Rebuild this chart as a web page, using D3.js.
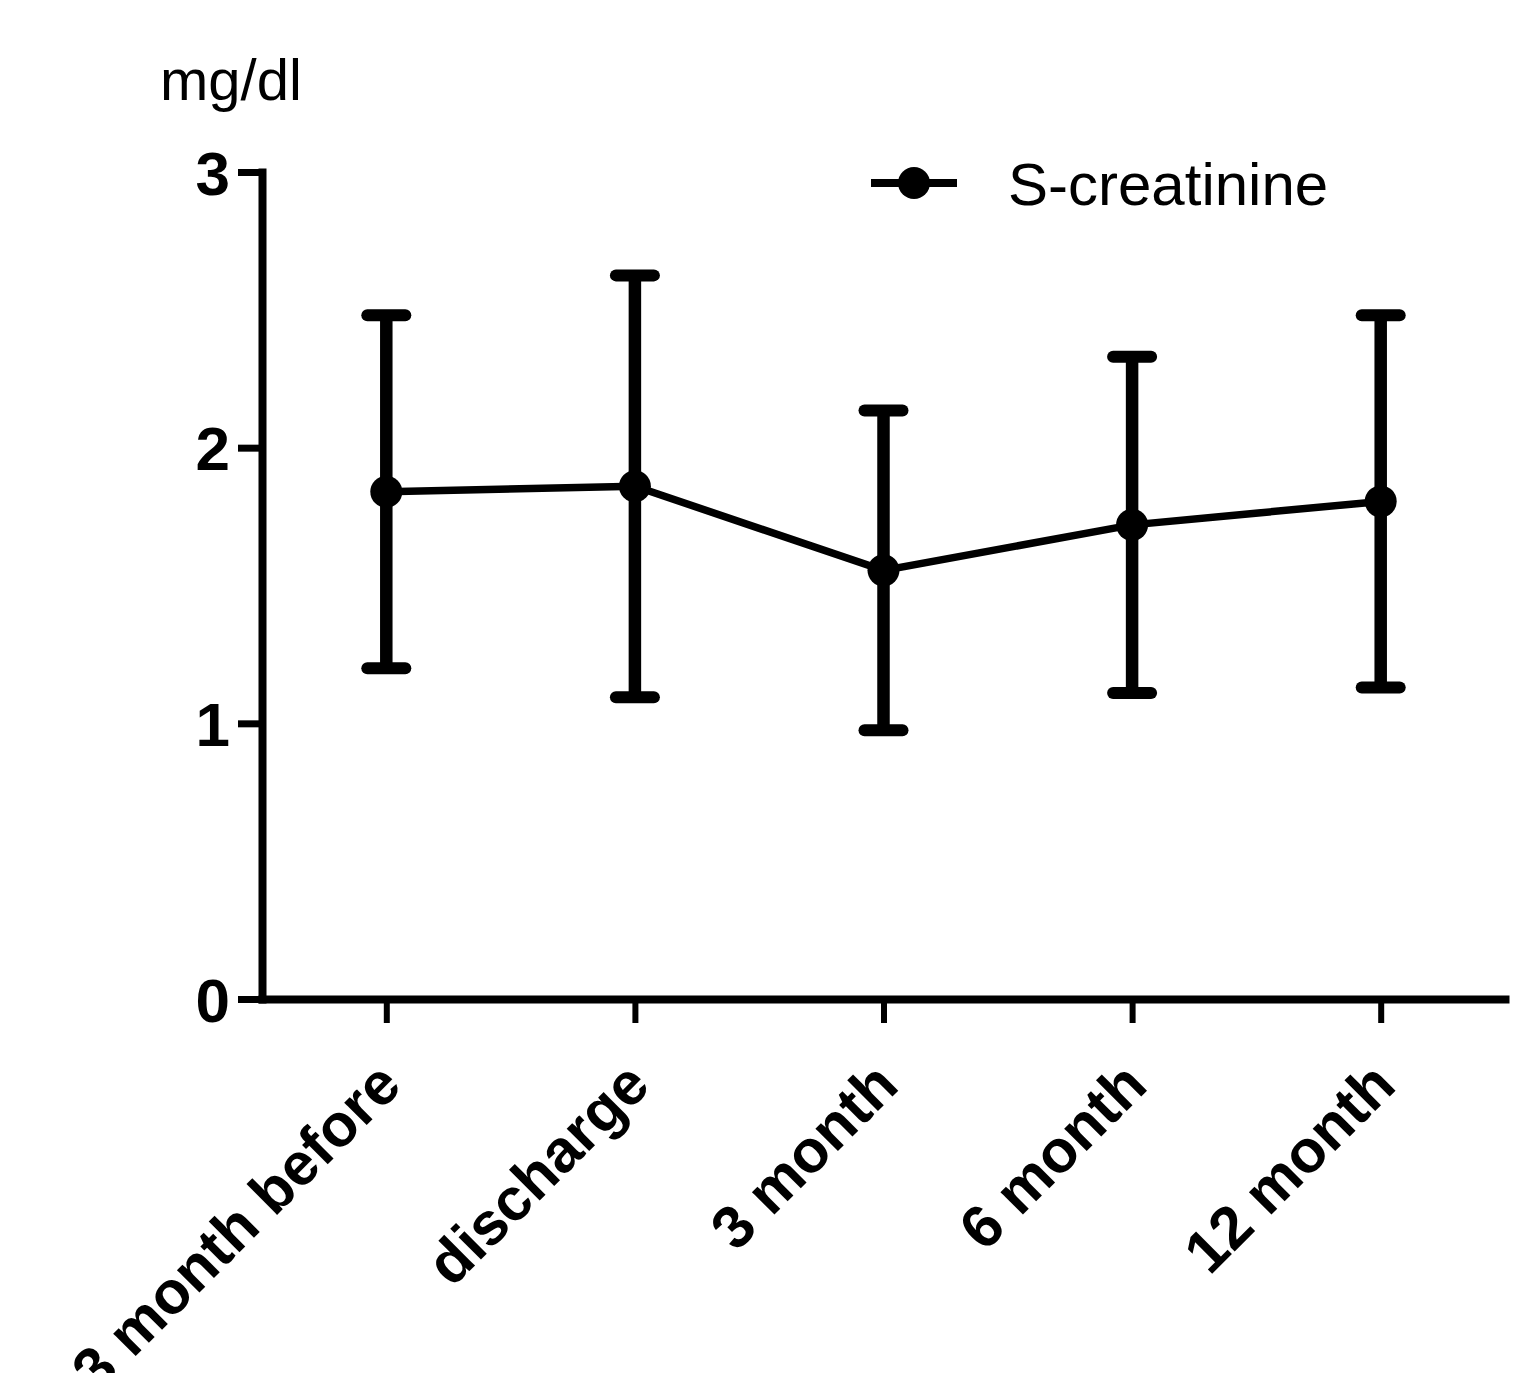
<!DOCTYPE html>
<html>
<head>
<meta charset="utf-8">
<script src="https://cdn.jsdelivr.net/npm/d3@7"></script>
<style>
  html, body { margin: 0; padding: 0; background: #fff; }
  svg { display: block; }
  text { font-family: "Liberation Sans", Arial, sans-serif; fill: #000; }
</style>
</head>
<body>
<script>
const categories = ["3 month before", "discharge", "3 month", "6 month", "12 month"];
const means = [1.84, 1.86, 1.555, 1.72, 1.805];
const sds = [0.64, 0.765, 0.58, 0.61, 0.675];
const yTicks = [0, 1, 2, 3];
const seriesName = "S-creatinine";
const unitLabel = "mg/dl";

const W = 1513, H = 1373;
const svg = d3.select("body").append("svg").attr("width", W).attr("height", H);
svg.append("rect").attr("width", W).attr("height", H).attr("fill", "#fff");

const x = d3.scalePoint().domain(categories).range([262, 1505]).padding(0.5);
const y = d3.scaleLinear().domain([0, 3]).range([999, 172]);

// Y axis
const yAxis = d3.axisLeft(y).tickValues(yTicks).tickSize(24).tickSizeOuter(0).tickFormat(d3.format("d"));
const gy = svg.append("g").attr("transform", "translate(262,0)").call(yAxis);
gy.select(".domain").attr("stroke", "#000").attr("stroke-width", 8).attr("stroke-linecap", "square");
gy.selectAll(".tick line").attr("stroke", "#000").attr("stroke-width", 7);
gy.selectAll(".tick text").attr("x", -32).attr("dy", "0.36em")
  .style("font-size", "62px").style("font-weight", "bold").attr("text-anchor", "end");

// X axis
const xAxis = d3.axisBottom(x).tickSize(24).tickSizeOuter(0);
const gx = svg.append("g").attr("transform", "translate(0,999)").call(xAxis);
gx.select(".domain").attr("stroke", "#000").attr("stroke-width", 8).attr("stroke-linecap", "square");
gx.selectAll(".tick line").attr("stroke", "#000").attr("stroke-width", 6);
gx.selectAll(".tick text")
  .attr("y", 0).attr("dy", 0)
  .attr("transform", "translate(17,89) rotate(-45)")
  .attr("text-anchor", "end")
  .style("font-size", "60px").style("font-weight", "bold");

// Unit label
svg.append("text").attr("x", 160).attr("y", 100)
  .style("font-size", "58px").text(unitLabel);

const data = categories.map((c, i) => ({ c, m: means[i], sd: sds[i] }));

// Connecting line
svg.append("path").datum(data)
  .attr("fill", "none").attr("stroke", "#000").attr("stroke-width", 7.5)
  .attr("d", d3.line().x(d => x(d.c)).y(d => y(d.m)));

// Error bars
const eb = svg.append("g");
eb.selectAll("line.v").data(data).join("line")
  .attr("x1", d => x(d.c)).attr("x2", d => x(d.c))
  .attr("y1", d => y(d.m + d.sd)).attr("y2", d => y(d.m - d.sd))
  .attr("stroke", "#000").attr("stroke-width", 12.5);
eb.selectAll("line.top").data(data).join("line")
  .attr("x1", d => x(d.c) - 19).attr("x2", d => x(d.c) + 19)
  .attr("y1", d => y(d.m + d.sd)).attr("y2", d => y(d.m + d.sd))
  .attr("stroke", "#000").attr("stroke-width", 12).attr("stroke-linecap", "round");
eb.selectAll("line.bot").data(data).join("line")
  .attr("class", "bot")
  .attr("x1", d => x(d.c) - 19).attr("x2", d => x(d.c) + 19)
  .attr("y1", d => y(d.m - d.sd)).attr("y2", d => y(d.m - d.sd))
  .attr("stroke", "#000").attr("stroke-width", 12).attr("stroke-linecap", "round");

// Markers
svg.append("g").selectAll("circle").data(data).join("circle")
  .attr("cx", d => x(d.c)).attr("cy", d => y(d.m)).attr("r", 16).attr("fill", "#000");

// Legend
const lg = svg.append("g");
lg.append("line").attr("x1", 871).attr("x2", 957).attr("y1", 183).attr("y2", 183)
  .attr("stroke", "#000").attr("stroke-width", 8);
lg.append("circle").attr("cx", 914).attr("cy", 183).attr("r", 16).attr("fill", "#000");
lg.append("text").attr("x", 1008).attr("y", 205).style("font-size", "60px").text(seriesName);
</script>
</body>
</html>
